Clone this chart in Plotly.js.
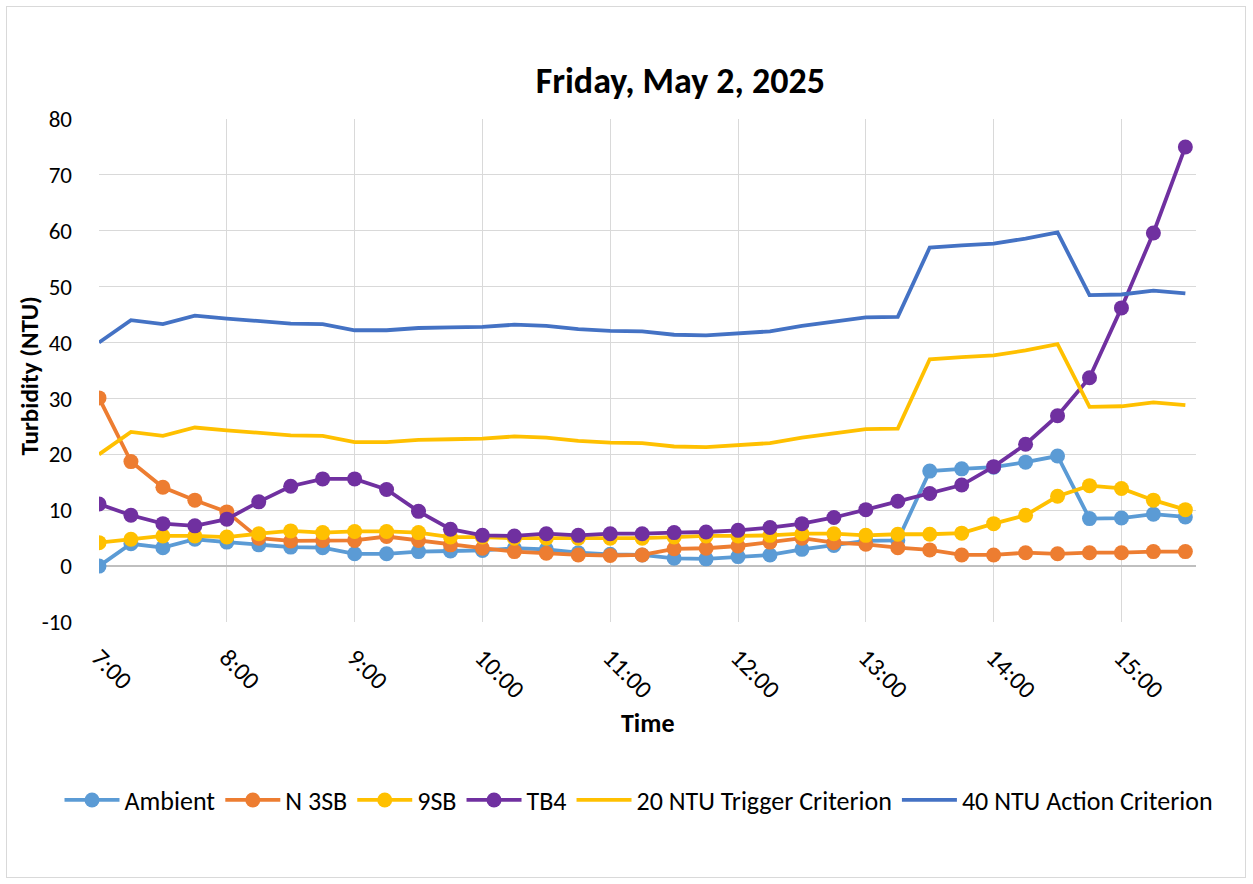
<!DOCTYPE html>
<html>
<head>
<meta charset="utf-8">
<script src="https://cdn.plot.ly/plotly-3.0.1.min.js"></script>
<style>
  html, body { margin: 0; padding: 0; background: #ffffff; }
  #frame { position: absolute; left: 6px; top: 6px; width: 1240px; height: 872px; border: 1px solid #d9d9d9; box-sizing: border-box; pointer-events: none; z-index: 5; }
  #chart { position: absolute; left: 0; top: 0; width: 1253px; height: 884px; }
</style>
</head>
<body>
<div id="chart"></div>
<div id="frame"></div>
<script>
const times = [
  '2025-05-02 07:00','2025-05-02 07:15','2025-05-02 07:30','2025-05-02 07:45',
  '2025-05-02 08:00','2025-05-02 08:15','2025-05-02 08:30','2025-05-02 08:45',
  '2025-05-02 09:00','2025-05-02 09:15','2025-05-02 09:30','2025-05-02 09:45',
  '2025-05-02 10:00','2025-05-02 10:15','2025-05-02 10:30','2025-05-02 10:45',
  '2025-05-02 11:00','2025-05-02 11:15','2025-05-02 11:30','2025-05-02 11:45',
  '2025-05-02 12:00','2025-05-02 12:15','2025-05-02 12:30','2025-05-02 12:45',
  '2025-05-02 13:00','2025-05-02 13:15','2025-05-02 13:30','2025-05-02 13:45',
  '2025-05-02 14:00','2025-05-02 14:15','2025-05-02 14:30','2025-05-02 14:45',
  '2025-05-02 15:00','2025-05-02 15:15','2025-05-02 15:30'
];

const ambient = [0.0, 4.0, 3.3, 4.8, 4.3, 3.8, 3.4, 3.3, 2.2, 2.2, 2.6, 2.7,
  2.8, 3.2, 3.0, 2.4, 2.1, 2.0, 1.4, 1.3, 1.7, 2.0, 3.0, 3.7,
  4.5, 4.6, 17.0, 17.4, 17.7, 18.6, 19.7, 8.5, 8.6, 9.3, 8.8];

const n3sb = [30.1, 18.7, 14.1, 11.8, 9.7, 5.0, 4.5, 4.6, 4.6, 5.3, 4.6, 3.8,
  3.2, 2.6, 2.3, 2.0, 1.9, 2.0, 3.1, 3.2, 3.6, 4.3, 5.0, 4.2,
  3.9, 3.3, 2.9, 2.0, 2.0, 2.4, 2.2, 2.4, 2.4, 2.6, 2.6];

const sb9 = [4.2, 4.8, 5.4, 5.4, 5.2, 5.8, 6.3, 6.0, 6.2, 6.2, 6.0, 5.2,
  5.2, 5.0, 5.0, 5.0, 5.0, 5.0, 5.2, 5.4, 5.4, 5.5, 5.8, 5.8,
  5.5, 5.7, 5.7, 5.9, 7.6, 9.1, 12.5, 14.4, 13.9, 11.8, 10.1];

const tb4 = [11.1, 9.1, 7.6, 7.2, 8.4, 11.5, 14.3, 15.6, 15.6, 13.7, 9.8, 6.6,
  5.5, 5.4, 5.8, 5.5, 5.8, 5.8, 6.0, 6.1, 6.4, 6.9, 7.6, 8.7,
  10.1, 11.6, 13.0, 14.5, 17.8, 21.8, 26.9, 33.7, 46.2, 59.6, 75.0];

const trigger = [20.0, 24.0, 23.3, 24.8, 24.3, 23.8, 23.4, 23.3, 22.2, 22.2, 22.6, 22.7,
  22.8, 23.2, 23.0, 22.4, 22.1, 22.0, 21.4, 21.3, 21.7, 22.0, 23.0, 23.7,
  24.5, 24.6, 37.0, 37.4, 37.7, 38.6, 39.7, 28.5, 28.6, 29.3, 28.8];

const action = [40.0, 44.0, 43.3, 44.8, 44.3, 43.8, 43.4, 43.3, 42.2, 42.2, 42.6, 42.7,
  42.8, 43.2, 43.0, 42.4, 42.1, 42.0, 41.4, 41.3, 41.7, 42.0, 43.0, 43.7,
  44.5, 44.6, 57.0, 57.4, 57.7, 58.6, 59.7, 48.5, 48.6, 49.3, 48.8];

const yTickVals = [-10, 0, 10, 20, 30, 40, 50, 60, 70, 80];
const yTickText = ['-10', '0', '10', '20', '30', '40', '50', '60', '70', '80'];

const seriesNames = ['Ambient', 'N 3SB', '9SB', 'TB4', '20 NTU Trigger Criterion', '40 NTU Action Criterion'];
const seriesColors = ['#5B9BD5', '#ED7D31', '#FFC000', '#7030A0', '#FFC000', '#4472C4'];
const seriesData = [ambient, n3sb, sb9, tb4, trigger, action];
const withMarkers = [true, true, true, true, false, false];

const titleText = 'Friday, May 2, 2025';
const xTitle = 'Time';
const yTitle = 'Turbidity (NTU)';

const FONT = 'Carlito, Calibri, Lato, "Open Sans", sans-serif';

const traces = seriesData.map((vals, i) => {
  const t = {
    type: 'scatter',
    mode: withMarkers[i] ? 'lines+markers' : 'lines',
    name: seriesNames[i],
    x: times,
    y: vals,
    line: { color: seriesColors[i], width: 3.8 }
  };
  if (withMarkers[i]) t.marker = { color: seriesColors[i], size: 15, symbol: 'circle' };
  return t;
});

const layout = {
  width: 1253,
  height: 884,
  paper_bgcolor: '#ffffff',
  plot_bgcolor: '#ffffff',
  font: { family: FONT, color: '#000000', size: 23 },
  margin: { l: 99, r: 57, t: 119, b: 262, autoexpand: false },
  title: {
    text: '<b>' + titleText + '</b>',
    font: { family: FONT, size: 36, color: '#000000' },
    x: 0.543, xanchor: 'center', xref: 'container',
    y: 0.909, yanchor: 'middle', yref: 'container'
  },
  xaxis: {
    type: 'date',
    range: ['2025-05-02 07:00', '2025-05-02 15:35'],
    dtick: 3600000,
    tick0: '2025-05-02 07:00',
    tickformat: '%-H:%M',
    tickangle: 45,
    tickfont: { family: FONT, size: 25, color: '#000000' },
    ticklabelstandoff: 15,
    showgrid: true,
    gridcolor: '#d9d9d9',
    gridwidth: 1.3,
    zeroline: false,
    showline: false,
    ticks: '',
    automargin: false
  },
  yaxis: {
    range: [-10, 80],
    tickmode: 'array',
    tickvals: yTickVals,
    ticktext: yTickText,
    tickfont: { family: FONT, size: 23, color: '#000000' },
    ticklabelstandoff: 26,
    showgrid: true,
    gridcolor: '#d9d9d9',
    gridwidth: 1.3,
    zeroline: true,
    zerolinecolor: '#bfbfbf',
    zerolinewidth: 1.6,
    showline: false,
    ticks: '',
    automargin: false
  },
  annotations: [
    {
      text: '<b>' + xTitle + '</b>',
      xref: 'paper', yref: 'paper',
      x: 0.5005, y: -0.2008, xanchor: 'center', yanchor: 'middle',
      showarrow: false,
      font: { family: FONT, size: 26, color: '#000000' }
    },
    {
      text: '<b>' + yTitle + '</b>',
      xref: 'paper', yref: 'paper',
      x: -0.0629, y: 0.49, xanchor: 'center', yanchor: 'middle',
      textangle: -90,
      showarrow: false,
      font: { family: FONT, size: 25, color: '#000000' }
    }
  ],
  showlegend: true,
  legend: {
    orientation: 'h',
    xref: 'paper',
    x: -0.036, xanchor: 'left',
    y: -0.354, yanchor: 'middle',
    font: { family: FONT, size: 26, color: '#000000' },
    bgcolor: 'rgba(0,0,0,0)',
    itemwidth: 55,
    traceorder: 'normal'
  },
  hovermode: 'closest'
};

Plotly.newPlot('chart', traces, layout, { displayModeBar: false });
</script>
</body>
</html>
